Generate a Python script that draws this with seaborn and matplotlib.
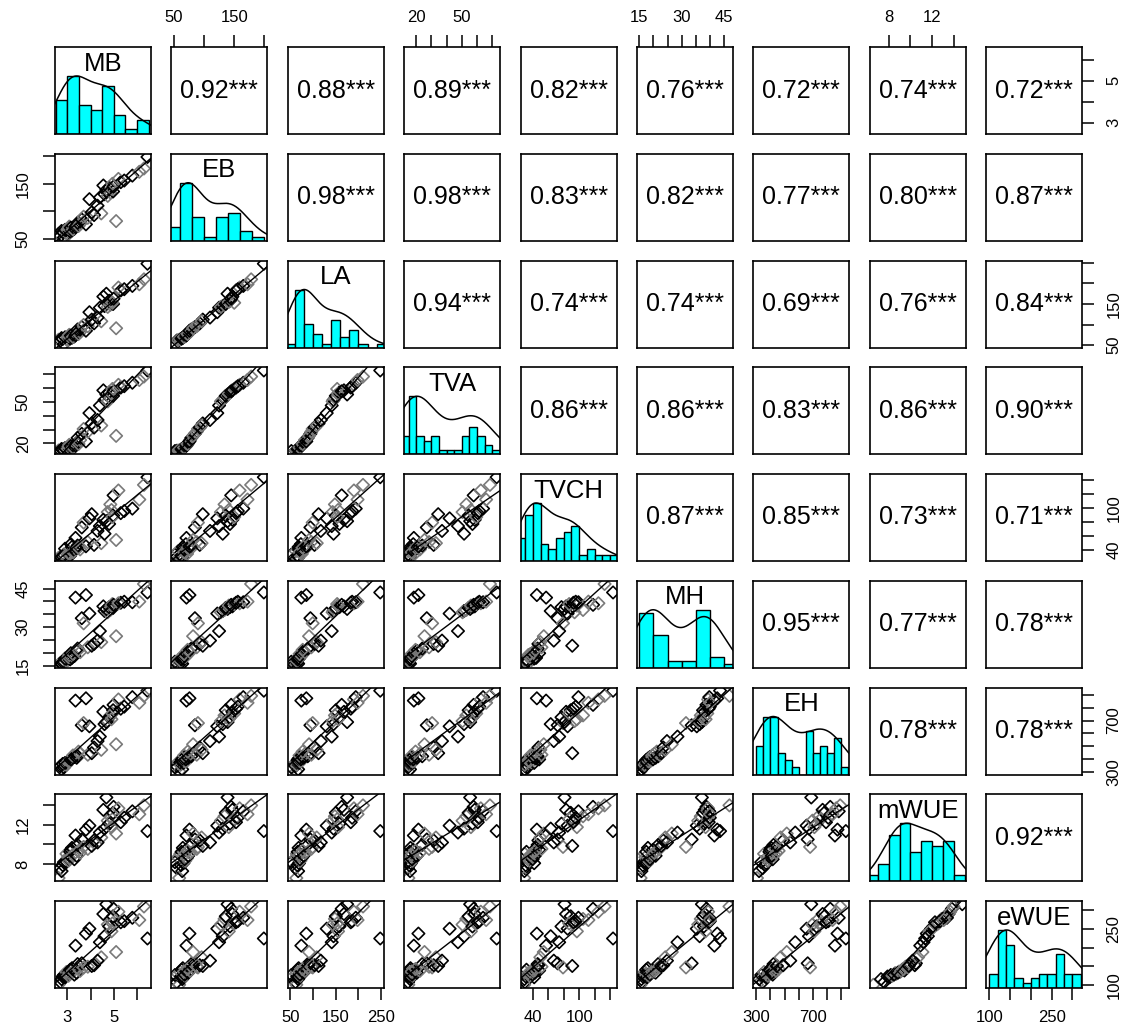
import numpy as np
import pandas as pd
import matplotlib
matplotlib.use("Agg")
import matplotlib.pyplot as plt
import seaborn as sns

sns.set_theme(style="white")
plt.rcParams["font.family"] = ["Liberation Sans", "DejaVu Sans"]

# ---------------- data ----------------
variables = ["MB", "EB", "LA", "TVA", "TVCH", "MH", "EH", "mWUE", "eWUE"]

MB = [2.70, 2.62, 2.85, 2.75, 3.02, 2.80, 2.96,
      2.90, 3.12, 3.05, 3.20, 3.08, 3.30, 3.15,
      3.24, 3.40, 3.35, 3.55, 3.44, 3.48, 3.62,
      3.80, 3.70, 3.95,
      3.88, 4.15, 4.05, 4.46, 4.30, 5.10,
      4.40, 4.60, 4.74, 4.68, 4.85, 4.80, 4.97, 4.90, 4.55, 4.94, 4.99, 5.30, 5.20, 5.45, 5.80, 6.10, 6.45, 6.30]
EB = [55, 59, 52, 64, 57, 62, 61,
      66, 63, 69, 65, 72, 68, 70,
      67, 74, 71, 77, 79, 73, 85,
      76, 90, 122,
      88, 93, 98, 96, 110, 82,
      125, 131, 128, 139, 134, 143, 136, 141, 147, 150, 145, 153, 159, 156, 165, 172, 199, 178]
LA = [61, 63, 52, 67, 62, 65, 64,
      69, 66, 72, 68, 75, 71, 73,
      70, 79, 74, 82, 88, 77, 94,
      85, 99, 130,
      96, 103, 112, 108, 117, 91,
      141, 145, 143, 175, 148, 158, 150, 155, 168, 153, 163, 183, 190, 186, 194, 198, 248, 210]
TVA = [14.7, 14.9, 14.5, 16.0, 14.8, 15.5, 15.2,
       16.6, 15.8, 17.7, 16.3, 19.0, 17.3, 18.1,
       17.0, 20.5, 18.5, 22.5, 24.0, 19.6, 27.0,
       21.5, 30.5, 42.0,
       28.5, 31.5, 34.5, 33.0, 37.0, 25.5,
       47.5, 51.5, 50.5, 55.5, 53.0, 57.0, 54.5, 56.0, 58.5, 59.5, 57.8, 60.5, 62.5, 61.5, 64.0, 66.0, 72.9, 68.5]
TVCH = [29.6, 28.5, 33, 28.8, 38, 30.5, 29.2,
        41.5, 31.5, 35.5, 44, 34, 39.5, 48,
        36.5, 42.5, 57, 40.5, 46, 43, 72,
        45, 79, 85,
        51, 47, 91, 49.5, 67, 54,
        74, 63, 94, 81, 105, 77, 89, 97, 83, 87, 118, 92.5, 125, 95.5, 99, 112, 144, 133]
MH = [16.0, 15.5, 16.6, 15.8, 17.2, 16.3, 16.9,
      17.8, 17.5, 18.4, 18.1, 19.2, 18.8, 19.9,
      19.6, 20.8, 41.5, 20.3, 21.7, 21.2, 33.5,
      42.5, 31.5, 35.3,
      22.2, 23.5, 22.8, 24.2, 24.8, 26.5,
      28.5, 36.3, 35.8, 37.1, 36.7, 37.8, 37.5, 38.4, 38.1, 39.0, 38.7, 39.5, 39.3, 39.9, 39.7, 39.95, 43.5, 46.8]
EH = [345, 305, 335, 320, 376, 362, 355,
      370, 393, 382, 404, 388, 416, 398,
      428, 410, 855, 440, 422, 458, 663,
      873, 680, 655,
      434, 490, 446, 472, 540, 515,
      575, 672, 696, 688, 740, 725, 780, 710, 768, 755, 822, 792, 864, 808, 882, 838, 932, 892]
mWUE = [7.6, 6.6, 8.2, 7.3, 8.7, 7.9, 9.05,
        8.1, 9.25, 8.35, 9.65, 8.6, 8.5, 9.45,
        8.95, 8.85, 10.9, 9.15, 9.95, 9.35, 10.5,
        11.5, 9.75, 11.9,
        9.55, 10.4, 9.85, 10.7, 10.2, 11.1,
        11.2, 11.6, 12.4, 14.75, 12.85, 12.1, 13.2, 11.75, 13.5, 12.55, 13.8, 12.25, 13.65, 12.7, 13.35, 13.05, 11.35, 13.95]
eWUE = [108, 101, 127, 116, 130, 123, 135,
        121, 141, 125, 145, 132, 128, 139,
        136, 133, 205, 138, 156, 143, 158,
        237, 147, 250,
        149, 153, 151, 174, 165, 188,
        214, 230, 261, 315, 276, 256, 283, 243, 289, 264, 303, 267, 295, 270, 279, 273, 224, 309]

site = ["A", "B", "A", "A", "B", "A", "B", "A",
        "A", "B", "A", "B", "A", "A", "B", "A",
        "A", "B", "A", "B", "A", "A", "B", "A",
        "B", "A", "A", "B", "A", "B", "A", "A",
        "B", "A", "B", "A", "A", "B", "A", "B",
        "A", "A", "B", "A", "A", "B", "A", "B"]

corr_text = [
    ["0.92***", "0.88***", "0.89***", "0.82***", "0.76***", "0.72***", "0.74***", "0.72***"],
    ["0.98***", "0.98***", "0.83***", "0.82***", "0.77***", "0.80***", "0.87***"],
    ["0.94***", "0.74***", "0.74***", "0.69***", "0.76***", "0.84***"],
    ["0.86***", "0.86***", "0.83***", "0.86***", "0.90***"],
    ["0.87***", "0.85***", "0.73***", "0.71***"],
    ["0.95***", "0.77***", "0.78***"],
    ["0.78***", "0.78***"],
    ["0.92***"],
]

tick_values = {
    "MB": [3, 4, 5, 6],
    "EB": [50, 100, 150, 200],
    "LA": [50, 100, 150, 200, 250],
    "TVA": [20, 30, 40, 50, 60, 70],
    "TVCH": [40, 60, 80, 100, 120, 140],
    "MH": [15, 20, 25, 30, 35, 40, 45],
    "EH": [300, 400, 500, 600, 700, 800, 900],
    "mWUE": [8, 10, 12, 14],
    "eWUE": [100, 150, 200, 250, 300],
}
tick_labels_x = {
    "MB": ["3", "", "5", ""],
    "EB": ["50", "", "150", ""],
    "LA": ["50", "", "150", "", "250"],
    "TVA": ["20", "", "", "50", "", ""],
    "TVCH": ["40", "", "", "100", "", ""],
    "MH": ["15", "", "", "30", "", "", "45"],
    "EH": ["300", "", "", "", "700", "", ""],
    "mWUE": ["8", "", "12", ""],
    "eWUE": ["100", "", "", "250", ""],
}
tick_labels_y = dict(tick_labels_x)
tick_labels_y["LA"] = ["50", "", "150", "", ""]

bin_edges = {
    "MB": np.arange(2.5, 6.51, 0.5),
    "EB": np.arange(40, 201, 20),
    "LA": np.arange(40, 261, 20),
    "TVA": np.arange(10, 76, 5),
    "TVCH": np.arange(20, 151, 10),
    "MH": np.arange(15, 51, 5),
    "EH": np.arange(300, 951, 50),
    "mWUE": np.arange(6, 15.01, 1),
    "eWUE": np.arange(100, 321, 20),
}

df = pd.DataFrame({"MB": MB, "EB": EB, "LA": LA, "TVA": TVA, "TVCH": TVCH,
                   "MH": MH, "EH": EH, "mWUE": mWUE, "eWUE": eWUE, "site": site})

# ---------------- layout ----------------
W, H = 1135, 1029
fig = plt.figure(figsize=(W / 100, H / 100), dpi=100)
fig.patch.set_facecolor("white")

col_x0, col_dx, pw = 55, 116.4, 96
row_y0, row_dy, ph = 47, 106.75, 87


def rect(i, j):
    x = col_x0 + j * col_dx
    y = row_y0 + i * row_dy
    return [x / W, 1 - (y + ph) / H, pw / W, ph / H]


lims = {}
for v in variables:
    lo, hi = df[v].min(), df[v].max()
    span = hi - lo
    lims[v] = (lo - 0.04 * span, hi + 0.04 * span)


def kde_curve(vals):
    x = np.asarray(vals, float)
    n = len(x)
    sd = x.std(ddof=1)
    q75, q25 = np.percentile(x, [75, 25])
    bw = 1.06 * min(sd, (q75 - q25) / 1.34) * n ** -0.2 * 1.2
    grid = np.linspace(x.min() - 3 * bw, x.max() + 3 * bw, 512)
    dens = np.exp(-0.5 * ((grid[:, None] - x[None, :]) / bw) ** 2).sum(axis=1)
    return grid, dens / dens.max()


TICK_KW = dict(direction="out", length=8.5, width=1.1, labelsize=12, colors="black")


def set_x_ticks(ax, var, side):
    ax.set_xticks(tick_values[var])
    ax.set_xticklabels(tick_labels_x[var])
    ax.tick_params(axis="x", pad=7, top=(side == "top"), bottom=(side == "bottom"),
                   labeltop=(side == "top"), labelbottom=(side == "bottom"), **TICK_KW)


def set_y_ticks(ax, var, side):
    ax.set_yticks(tick_values[var])
    ax.set_yticklabels(tick_labels_y[var])
    ax.tick_params(axis="y", pad=9, left=(side == "left"), right=(side == "right"),
                   labelleft=(side == "left"), labelright=(side == "right"),
                   labelrotation=90, **TICK_KW)
    for lab in ax.get_yticklabels():
        lab.set_va("center")


n = len(variables)
axes = [[None] * n for _ in range(n)]
for i in range(n):
    for j in range(n):
        ax = fig.add_axes(rect(i, j))
        axes[i][j] = ax
        vi, vj = variables[i], variables[j]
        if i > j:
            ax.set_xlim(lims[vj])
            ax.set_ylim(lims[vi])
            sns.scatterplot(data=df, x=vj, y=vi, hue="site",
                            palette={"A": "black", "B": "#7a7a7a"},
                            marker="D", s=40, linewidth=1.2, legend=False, ax=ax)
            coll = ax.collections[-1]
            fc = coll.get_facecolors()
            coll.set_edgecolors(fc)
            coll.set_facecolors("none")
            ax.set_xlim(lims[vj])
            ax.set_ylim(lims[vi])
            sns.regplot(data=df, x=vj, y=vi, scatter=False, ci=None, truncate=False,
                        color="black", line_kws={"lw": 1.0}, ax=ax)
            ax.set_xlim(lims[vj])
            ax.set_ylim(lims[vi])
        elif i < j:
            ax.set_xlim(lims[vj])
            ax.set_ylim(lims[vi])
            ax.text(0.5, 0.5, corr_text[i][j - i - 1], ha="center", va="center",
                    fontsize=18, color="black", transform=ax.transAxes)
        else:
            counts, _ = np.histogram(df[vi], bins=bin_edges[vi])
            sns.histplot(x=df[vi], bins=bin_edges[vi], color="#00FFFF", edgecolor="black",
                         linewidth=1.0, alpha=1, ax=ax)
            g, d = kde_curve(df[vi])
            ax.plot(g, d * counts.max(), color="black", lw=1.1)
            ax.set_xlim(lims[vi])
            ax.set_ylim(0, 1.5 * counts.max())
            ax.text(0.5, 0.81, vi, ha="center", va="center", fontsize=18.5,
                    color="black", transform=ax.transAxes)
        ax.set_xlabel("")
        ax.set_ylabel("")
        ax.set_xticks([])
        ax.set_yticks([])
        ax.set_facecolor("white")
        for s in ax.spines.values():
            s.set_visible(True)
            s.set_color("black")
            s.set_linewidth(1.2)

# outer axes, alternating like R pairs()
for j, v in enumerate(variables):
    if j % 2 == 1:
        set_x_ticks(axes[0][j], v, "top")
    else:
        set_x_ticks(axes[n - 1][j], v, "bottom")
for i, v in enumerate(variables):
    if i % 2 == 1:
        set_y_ticks(axes[i][0], v, "left")
    else:
        ax = axes[i][n - 1]
        if i == n - 1:
            tw = ax.twinx()
            tw.set_ylim(lims[v])
            for s in tw.spines.values():
                s.set_visible(False)
            tw.grid(False)
            set_y_ticks(tw, v, "right")
        else:
            set_y_ticks(ax, v, "right")

fig.savefig("out.png", dpi=100, facecolor="white")
